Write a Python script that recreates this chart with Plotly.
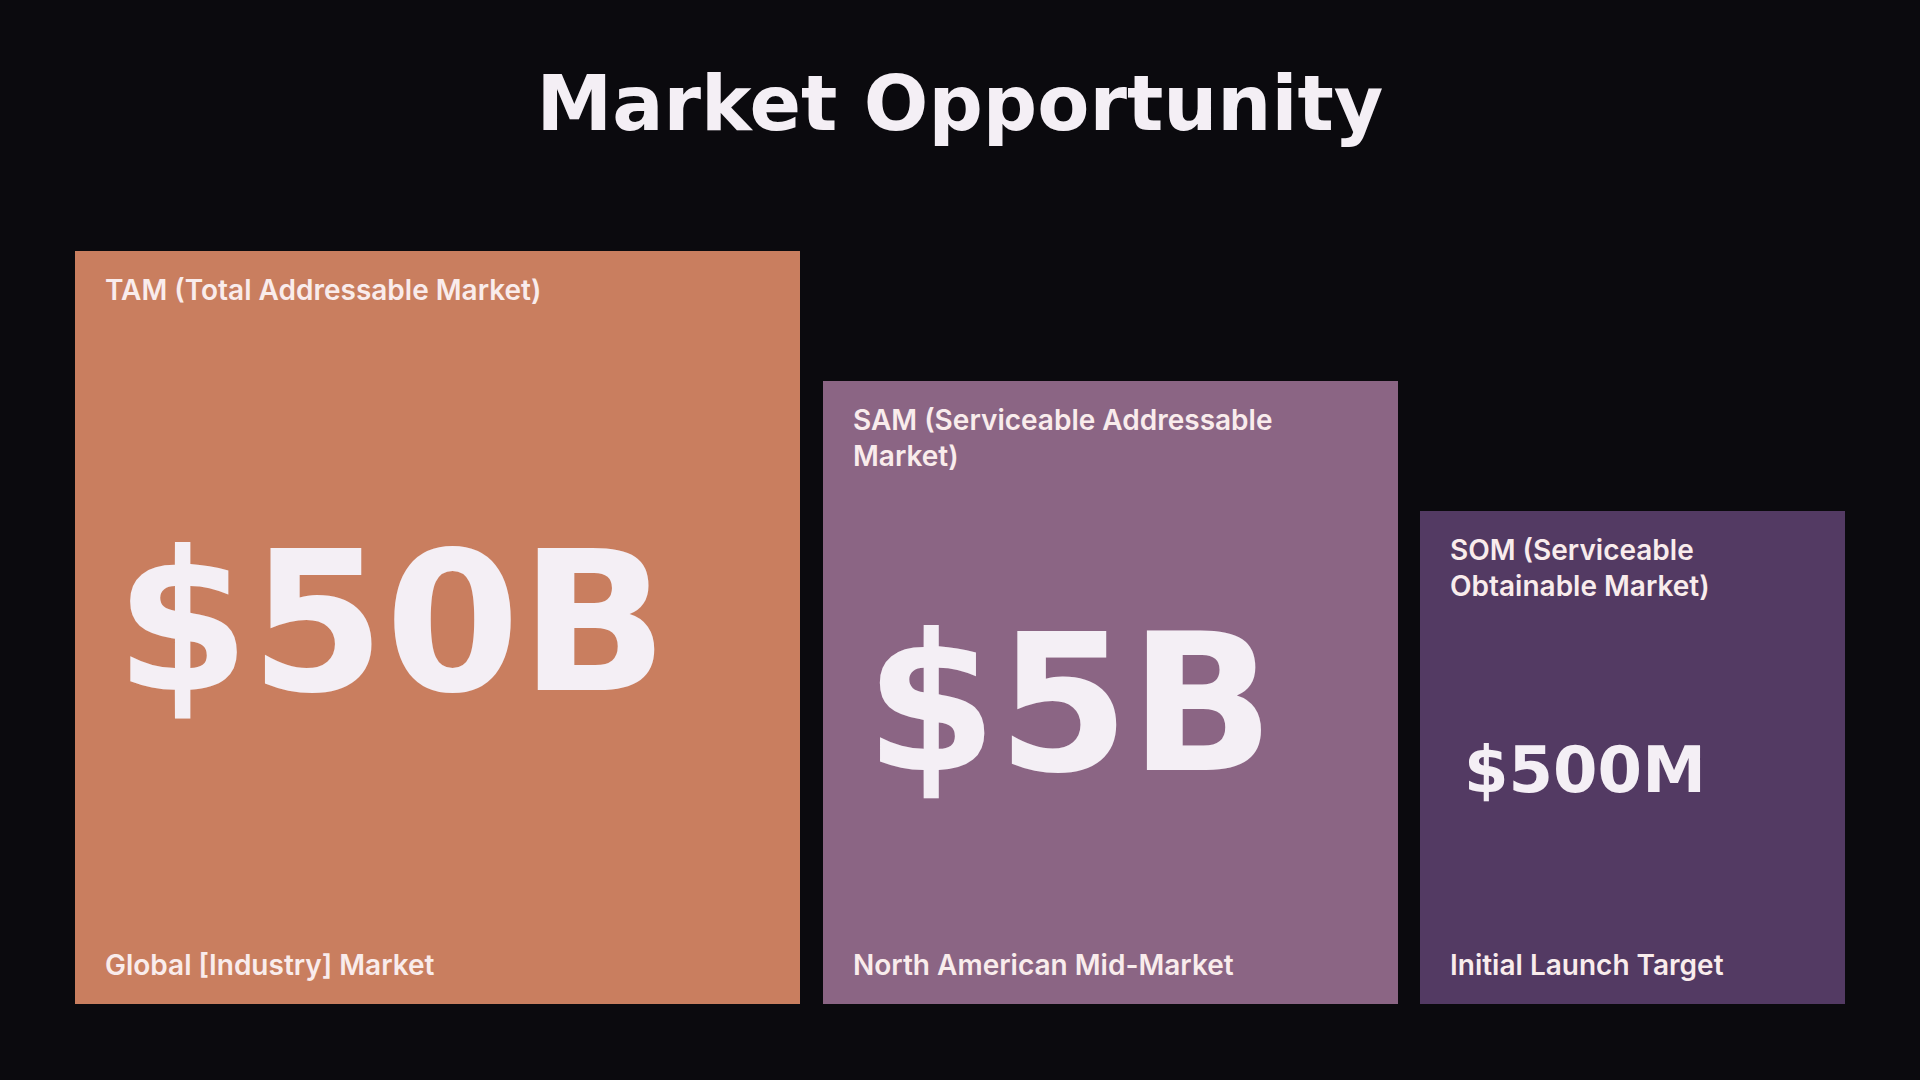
import math
import plotly.graph_objects as go

# ---------------- data ----------------
segments = ["TAM", "SAM", "SOM"]
segment_names = [
    "TAM (Total Addressable Market)",
    "SAM (Serviceable Addressable<br>Market)",
    "SOM (Serviceable<br>Obtainable Market)",
]
market_value_billion = [50, 5, 0.5]
value_labels = ["$50B", "$5B", "$500M"]
scope_labels = ["Global [Industry] Market", "North American Mid-Market", "Initial Launch Target"]
title_text = "Market Opportunity"

# ---------------- style ----------------
BG = "#0B0A0E"
colors = ["#C97E5F", "#8B6584", "#533A63"]
TEXT = "#F4EFF5"
LABEL = "#F9ECEC"
value_font_sizes = [194, 190, 64]
value_pad = [38, 40, 42]
label_lines = [1, 2, 2]

W, H = 1920, 1080
M_T, M_B = 150, 76
PLOT_H = H - M_T - M_B
TALLEST_PX = 753      # pixel height of the largest box
DECADE_PX = 130       # pixels per factor of ten (height)
WIDEST_PX = 725       # pixel width of the largest box
DECADE_W_PX = 150     # pixels per factor of ten (width)
GAP_PX = 22.5
LEFT_PX = 75

vmax = max(market_value_billion)
ymin_log = math.log10(vmax) - TALLEST_PX / DECADE_PX
ymax_log = ymin_log + PLOT_H / DECADE_PX
base_val = 10 ** ymin_log

widths = [WIDEST_PX + DECADE_W_PX * math.log10(v / vmax) for v in market_value_billion]
lefts = []
cur = LEFT_PX
for w in widths:
    lefts.append(cur)
    cur += w + GAP_PX
centers = [l + w / 2 for l, w in zip(lefts, widths)]

fig = go.Figure()
fig.add_trace(go.Bar(
    x=centers,
    y=market_value_billion,
    width=widths,
    base=base_val,
    marker=dict(color=colors, line=dict(width=0)),
    hoverinfo="skip",
    showlegend=False,
))

annotations = []
for i in range(len(segments)):
    top_log = math.log10(market_value_billion[i])
    annotations.append(dict(
        x=lefts[i] + 28, y=top_log, xref="x", yref="y",
        xanchor="left", yanchor="top", yshift=-20,
        text=segment_names[i], showarrow=False, align="left",
        font=dict(family="Inter", size=28, color=LABEL, weight=600),
    ))
    annotations.append(dict(
        x=lefts[i] + 28, y=ymin_log, xref="x", yref="y",
        xanchor="left", yanchor="bottom", yshift=20,
        text=scope_labels[i], showarrow=False, align="left",
        font=dict(family="Inter", size=28, color=LABEL, weight=600),
    ))
    annotations.append(dict(
        x=lefts[i] + value_pad[i], y=(top_log + ymin_log) / 2, xref="x", yref="y",
        xanchor="left", yanchor="middle",
        yshift=5 - 17 * (label_lines[i] - 1),
        text=value_labels[i], showarrow=False, align="left",
        font=dict(family="DejaVu Sans", size=value_font_sizes[i], color=TEXT, weight=700),
    ))

fig.update_layout(
    width=W, height=H,
    paper_bgcolor=BG, plot_bgcolor=BG,
    margin=dict(l=0, r=0, t=M_T, b=M_B, pad=0),
    title=dict(
        text=title_text, x=0.5, xanchor="center", xref="paper",
        y=1 - 103 / H, yref="container", yanchor="middle",
        font=dict(family="DejaVu Sans", size=76, color=TEXT, weight=700),
    ),
    xaxis=dict(range=[0, W], visible=False, fixedrange=True),
    yaxis=dict(type="log", range=[ymin_log, ymax_log], visible=False, fixedrange=True),
    bargap=0,
    annotations=annotations,
)

fig.write_html(
    "out.html",
    config={"displayModeBar": False},
    post_script="document.body.style.margin='0';document.body.style.overflow='hidden';document.body.style.background='#0B0A0E';",
)
